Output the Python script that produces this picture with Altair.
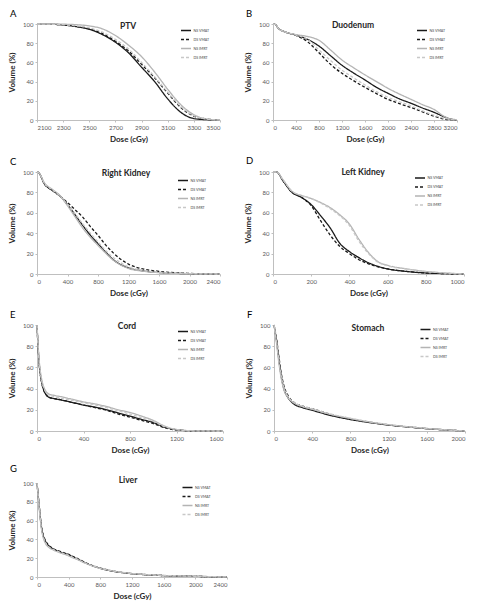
import altair as alt
import pandas as pd

SERIES = ["NS VMAT", "DS VMAT", "NS IMRT", "DS IMRT"]
COLORS = ["#1a1a1a", "#1a1a1a", "#b4b4b4", "#c8c8c8"]
DASHES = [[1, 0], [3, 2], [1, 0], [3, 2]]
WIDTHS = [1.3, 1.3, 1.0, 1.0]
Y_TICKS = [0, 20, 40, 60, 80, 100]

# ---- A: PTV ----
ptv_dose = [2100, 2200, 2300, 2400, 2500, 2600, 2700, 2800, 2900, 3000, 3100, 3200, 3300, 3400, 3500]
ptv_ns_vmat = [100, 99.8, 99, 97.3, 94.5, 89, 81, 70, 55, 40, 22, 8, 1.5, 0.3, 0]
ptv_ds_vmat = [100, 99.8, 99, 97.5, 95, 90, 82, 72, 58, 44, 28, 13, 4, 1, 0]
ptv_ns_imrt = [100, 100, 99.8, 99.3, 98, 95, 88, 78, 66, 50, 32, 16, 5.5, 1, 0]
ptv_ds_imrt = [100, 99.8, 99.2, 98, 96, 91.5, 84, 74, 60, 45, 29, 14, 4.5, 1, 0]
ptv_ticks = [2100, 2300, 2500, 2700, 2900, 3100, 3300, 3500]

# ---- B: Duodenum ----
duo_dose = [0, 40, 100, 200, 400, 600, 800, 1000, 1200, 1400, 1600, 1800, 2000, 2200, 2400, 2600, 2800, 3000, 3100, 3200]
duo_ns_vmat = [100, 99.5, 95, 92, 88.5, 84, 77, 67, 57, 49, 41.7, 34, 27.8, 22, 17.4, 12.5, 8, 2.8, 0.8, 0]
duo_ds_vmat = [100, 99.5, 95, 92, 88, 81.6, 70, 58, 48.6, 41, 34, 27.5, 21.5, 17, 13, 8.5, 4, 0.7, 0.2, 0]
duo_ns_imrt = [100, 99.5, 95, 92, 89, 87, 83, 73, 62.5, 54.5, 47, 40, 33, 27, 21.5, 16, 11, 3, 1, 0.3]
duo_ds_imrt = [100, 99.5, 95, 92, 88.5, 84, 73, 62, 52, 44, 36.5, 29.5, 23.6, 19, 14.6, 9.5, 5, 1.4, 0.4, 0]
duo_ticks = [0, 400, 800, 1200, 1600, 2000, 2400, 2800, 3200]

# ---- C: Right Kidney ----
rk_dose = [0, 20, 100, 200, 300, 400, 500, 600, 700, 800, 900, 1000, 1200, 1400, 1600, 2000, 2400]
rk_ns_vmat = [100, 99.5, 88, 82, 76.5, 68, 58, 47.6, 38, 29.8, 21.5, 14, 6, 3, 1.5, 0.3, 0]
rk_ds_vmat = [100, 99.5, 88, 82, 76.5, 70, 63, 55.7, 46.5, 37.9, 28.5, 20.7, 9.7, 4.8, 2.6, 0.6, 0]
rk_ns_imrt = [100, 99.5, 89, 83, 77, 67, 56, 45, 36, 28, 20.5, 13.6, 5.5, 2.7, 1.3, 0.3, 0]
rk_ds_imrt = [100, 99.5, 88.5, 82.5, 76.5, 68, 59, 49, 40, 31.4, 23, 16.2, 7, 3.5, 1.8, 0.4, 0]
rk_ticks = [0, 400, 800, 1200, 1600, 2000, 2400]

# ---- D: Left Kidney ----
lk_dose = [0, 20, 50, 100, 150, 200, 250, 300, 350, 400, 450, 500, 550, 600, 700, 800, 900, 1000]
lk_ns_vmat = [100, 100, 92, 80, 75, 68, 57, 45, 30, 22, 16, 11, 7.5, 5, 2.5, 1, 0.4, 0]
lk_ds_vmat = [100, 100, 92, 80, 75, 67, 52, 38, 27, 20, 14, 10, 7, 5, 2.5, 1, 0.4, 0]
lk_ns_imrt = [100, 100, 93, 81, 77, 74, 70, 65, 58, 49, 34, 21, 12, 8.5, 5, 2.5, 1, 0]
lk_ds_imrt = [100, 100, 93, 81, 77, 74, 69.5, 64, 57, 47.5, 32, 20, 11.5, 8, 4.8, 2.4, 1, 0]
lk_ticks = [0, 200, 400, 600, 800, 1000]

# ---- E: Cord ----
cord_dose = [0, 10, 20, 40, 60, 80, 100, 150, 200, 300, 400, 500, 600, 700, 800, 900, 1000, 1100, 1200, 1300, 1400, 1600]
cord_ns_vmat = [100, 78, 62, 46, 38, 34, 32, 30.5, 29.5, 27, 24.5, 22.5, 20, 17, 14, 11, 8, 3.5, 1.2, 0.3, 0.1, 0]
cord_ds_vmat = [100, 78, 62, 46, 38, 34, 32, 30.5, 29.5, 27, 24.5, 22, 19.5, 16, 13, 10, 7, 3, 1, 0.3, 0.1, 0]
cord_ns_imrt = [100, 80, 65, 49, 41, 37, 35, 33.5, 32.5, 30, 27.5, 25.5, 23, 20, 17.5, 14, 10, 4.5, 1.5, 0.4, 0.1, 0]
cord_ds_imrt = [100, 79, 64, 48, 40, 36, 34, 32.5, 31, 29, 26.5, 24.5, 22, 19, 16, 12.5, 9, 4, 1.3, 0.3, 0.1, 0]
cord_ticks = [0, 400, 800, 1200, 1600]

# ---- F: Stomach ----
sto_dose = [0, 25, 50, 75, 100, 150, 200, 300, 400, 600, 800, 1000, 1200, 1400, 1600, 1800, 2000]
sto_ns_vmat = [100, 86, 68, 52, 41, 31, 26, 22, 19.5, 14.5, 10.8, 8, 5.6, 3.8, 2.2, 1, 0]
sto_ds_vmat = [100, 88, 71, 55, 44, 33, 27.5, 23.5, 21, 15.5, 11.5, 8.3, 5.8, 3.9, 2.3, 1, 0]
sto_ns_imrt = [100, 84, 65, 50, 40, 31, 27, 23, 20.5, 15.5, 11.8, 8.5, 6, 4, 2.4, 1.1, 0]
sto_ds_imrt = [100, 85, 67, 52, 42, 32, 27.5, 23.5, 21, 15.8, 12, 8.7, 6.1, 4.1, 2.5, 1.1, 0]
sto_ticks = [0, 400, 800, 1200, 1600, 2000]

# ---- G: Liver ----
liv_dose = [0, 25, 50, 75, 100, 150, 200, 300, 400, 450, 500, 600, 700, 800, 1000, 1200, 1400, 1600, 1800, 2000, 2200, 2400]
liv_ns_vmat = [100, 78, 57, 45, 39, 33, 30, 26.5, 23.5, 21.5, 19.5, 15.5, 12, 9.2, 5.6, 3.5, 2.3, 1.5, 1, 0.7, 0.3, 0]
liv_ds_vmat = [100, 78, 58, 46, 40, 33.5, 30.5, 27, 24, 22, 20, 15.8, 12.2, 9.4, 5.8, 3.6, 2.4, 1.5, 1, 0.7, 0.3, 0]
liv_ns_imrt = [100, 76, 55, 43, 37, 31.5, 29, 25.5, 22.5, 20.5, 19, 15, 11.8, 9.2, 5.8, 3.7, 2.5, 1.6, 1.1, 0.8, 0.4, 0]
liv_ds_imrt = [100, 77, 56, 44, 38, 32, 29.5, 26, 23, 21, 19.2, 15.2, 12, 9.3, 5.9, 3.8, 2.6, 1.7, 1.2, 0.8, 0.4, 0]
liv_ticks = [0, 400, 800, 1200, 1600, 2000, 2400]


def make_df(dose, *series_vals):
    rows = []
    for name, vals in zip(SERIES, series_vals):
        for d, v in zip(dose, vals):
            rows.append({"dose": d, "volume": v, "series": name})
    return pd.DataFrame(rows)


def panel(letter, organ, df, ticks, w, h, tdx, tdy, lx, ly):
    leg = alt.Legend(
        title=None, orient="none", legendX=lx, legendY=ly,
        symbolType="M-2,0H2", symbolSize=25, symbolStrokeWidth=1,
        labelFont="Lato", labelFontSize=3.6, labelColor="#404040",
        labelOffset=4, rowPadding=2, padding=0,
    )
    lines = alt.Chart(df).mark_line(interpolate="monotone").encode(
        x=alt.X("dose:Q", scale=alt.Scale(domain=[ticks[0], ticks[-1]], nice=False, zero=False),
                axis=alt.Axis(values=ticks, format="d", title="Dose (cGy)", titlePadding=5)),
        y=alt.Y("volume:Q", scale=alt.Scale(domain=[0, 100], nice=False),
                axis=alt.Axis(values=Y_TICKS, format="d", title="Volume (%)", titlePadding=6)),
        color=alt.Color("series:N", scale=alt.Scale(domain=SERIES, range=COLORS), legend=leg),
        strokeDash=alt.StrokeDash("series:N", scale=alt.Scale(domain=SERIES, range=DASHES), legend=leg),
        strokeWidth=alt.StrokeWidth("series:N", scale=alt.Scale(domain=SERIES, range=WIDTHS), legend=None),
    )
    ttl = alt.Chart(pd.DataFrame({"t": [organ]})).mark_text(
        font="Lato", fontSize=8.5, fontWeight="bold", baseline="middle", align="center", color="#262626"
    ).encode(text="t:N", x=alt.value(w / 2 + tdx), y=alt.value(tdy))
    return alt.layer(lines, ttl).properties(
        width=w, height=h,
        title=alt.Title(letter, anchor="start", frame="group", dx=-27, fontSize=9.5,
                        fontWeight="normal", font="Lato", color="#000000", offset=3),
    )


A = panel("A", "PTV", make_df(ptv_dose, ptv_ns_vmat, ptv_ds_vmat, ptv_ns_imrt, ptv_ds_imrt),
          ptv_ticks, 183, 96, -0.5, 2, 145.5, 3)
B = panel("B", "Duodenum", make_df(duo_dose, duo_ns_vmat, duo_ds_vmat, duo_ns_imrt, duo_ds_imrt),
          duo_ticks, 184, 96, -12, 1, 145.5, 3)
C = panel("C", "Right Kidney", make_df(rk_dose, rk_ns_vmat, rk_ds_vmat, rk_ns_imrt, rk_ds_imrt),
          rk_ticks, 183, 102, -2.5, 1, 142.5, 5)
D = panel("D", "Left Kidney", make_df(lk_dose, lk_ns_vmat, lk_ds_vmat, lk_ns_imrt, lk_ds_imrt),
          lk_ticks, 191, 102, -5.5, 0, 143.5, 2.5)
E = panel("E", "Cord", make_df(cord_dose, cord_ns_vmat, cord_ds_vmat, cord_ns_imrt, cord_ds_imrt),
          cord_ticks, 186, 106, -3, 1, 142.5, 3)
F = panel("F", "Stomach", make_df(sto_dose, sto_ns_vmat, sto_ds_vmat, sto_ns_imrt, sto_ds_imrt),
          sto_ticks, 191, 106, -1.5, 2.5, 148, 1)
G = panel("G", "Liver", make_df(liv_dose, liv_ns_vmat, liv_ds_vmat, liv_ns_imrt, liv_ds_imrt),
          liv_ticks, 190, 94, -4, -3, 147, 1)

RES = dict(color="independent", strokeDash="independent", strokeWidth="independent")
row1 = alt.hconcat(A, B, spacing=20).resolve_scale(**RES)
row2 = alt.hconcat(C, D, spacing=20).resolve_scale(**RES)
row3 = alt.hconcat(E, F, spacing=18).resolve_scale(**RES)

top3 = alt.vconcat(row1, row2, row3, spacing=11).resolve_scale(**RES)
chart = alt.vconcat(top3, G, spacing=8).resolve_scale(**RES).properties(
    padding=0
).configure_axis(
    labelFont="Lato", labelFontSize=6, labelColor="#595959", labelPadding=2,
    titleFont="Lato", titleFontSize=8, titleFontWeight="bold", titleColor="#262626",
    domainColor="#bfbfbf", tickColor="#bfbfbf", tickSize=2, grid=False,
).configure_view(stroke="transparent")

chart.save("out.html", embed_options={"renderer": "svg", "actions": False})
